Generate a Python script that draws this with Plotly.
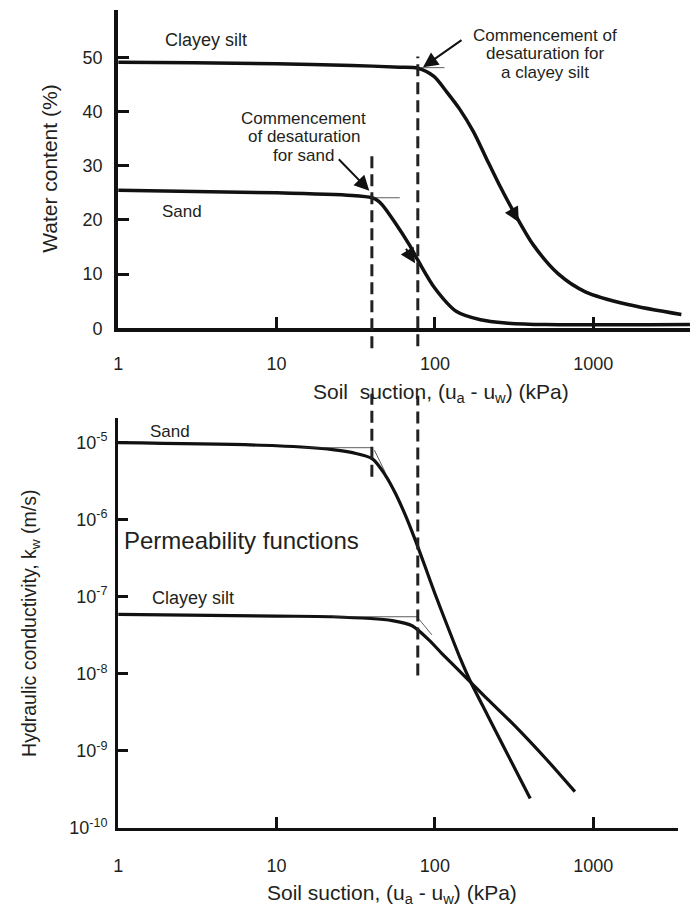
import plotly.graph_objects as go

W, H = 692, 916

# ---------------- data ----------------
# Top panel: water content (%) vs soil suction (kPa)
silt_wc_suction = [1, 3, 10, 30, 60, 78, 98.6, 119, 143, 175, 211, 255, 312, 416, 604, 891, 1655, 3600]
silt_wc = [49.1, 49.0, 48.8, 48.5, 48.2, 48.0, 46.5, 43.6, 40.5, 36.3, 31.4, 26.5, 21.7, 15.5, 10.0, 6.75, 4.4, 2.55]
sand_wc_suction = [1, 10, 30, 40, 43, 46.5, 56.1, 68.7, 79.4, 100, 137, 194, 280, 501, 4080]
sand_wc = [25.5, 25.0, 24.5, 24.1, 23.7, 22.8, 19.5, 15.5, 12.2, 7.4, 3.1, 1.6, 1.0, 0.7, 0.7]

# Bottom panel: hydraulic conductivity (m/s) vs soil suction (kPa)
sand_k_suction = [1, 10, 22.6, 30.2, 40.3, 48.6, 56.1, 64.9, 75, 86.5, 100, 120, 146, 166, 215, 287, 400]
sand_k = [1.0e-5, 9.12e-6, 8.13e-6, 7.41e-6, 6.17e-6, 3.8e-6, 2.24e-6, 1.16e-6, 5.5e-7, 2.5e-7,
          1.1e-7, 4.17e-8, 1.51e-8, 8.3e-9, 2.9e-9, 9.1e-10, 2.4e-10]
silt_k_suction = [1, 10, 22.4, 53.8, 71.8, 91.6, 110, 163, 215, 318, 511, 766]
silt_k = [5.9e-8, 5.6e-8, 5.5e-8, 4.9e-8, 4.2e-8, 2.75e-8, 1.86e-8, 8.3e-9, 4.68e-9, 2.14e-9, 7.6e-10, 2.95e-10]

# Air-entry (commencement of desaturation) suctions
aev_sand = 40
aev_silt = 78

# Thin construction (tangent) lines
tan_top_sand_x, tan_top_sand_y = [40, 60], [24.1, 24.1]
tan_top_silt_x, tan_top_silt_y = [78, 115], [48.1, 48.1]
tan_bot_sand_h_x, tan_bot_sand_h_y = [14.6, 40], [8.6e-6, 8.6e-6]
tan_bot_sand_d_x, tan_bot_sand_d_y = [41.5, 48.6], [8.0e-6, 4.1e-6]
tan_bot_silt_h_x, tan_bot_silt_h_y = [22.6, 77], [5.5e-8, 5.5e-8]
tan_bot_silt_d_x, tan_bot_silt_d_y = [77, 95.8], [5.5e-8, 3.2e-8]

x_tickvals = [1, 10, 100, 1000]
x_ticktext = ["1", "10", "100", "1000"]
wc_tickvals = [0, 10, 20, 30, 40, 50]
k_tickvals = [1e-10, 1e-9, 1e-8, 1e-7, 1e-6, 1e-5]
k_ticktext = ["10<sup>-10</sup>", "10<sup>-9</sup>", "10<sup>-8</sup>", "10<sup>-7</sup>",
              "10<sup>-6</sup>", "10<sup>-5</sup>"]

# ---------------- helpers ----------------
FONT = "Liberation Sans, Arial, sans-serif"
TXT = "#231f20"
LINE = "#111111"


def px_x(p):
    return p / W


def px_y(p):
    return 1 - p / H


fig = go.Figure()

# main curves
fig.add_trace(go.Scatter(x=silt_wc_suction, y=silt_wc, mode="lines", xaxis="x", yaxis="y",
                         line=dict(color=LINE, width=3.5, shape="spline", smoothing=0.8)))
fig.add_trace(go.Scatter(x=sand_wc_suction, y=sand_wc, mode="lines", xaxis="x", yaxis="y",
                         line=dict(color=LINE, width=3.5, shape="spline", smoothing=0.8)))
fig.add_trace(go.Scatter(x=sand_k_suction, y=sand_k, mode="lines", xaxis="x2", yaxis="y2",
                         line=dict(color=LINE, width=3.2, shape="spline", smoothing=0.8)))
fig.add_trace(go.Scatter(x=silt_k_suction, y=silt_k, mode="lines", xaxis="x2", yaxis="y2",
                         line=dict(color=LINE, width=3.2, shape="spline", smoothing=0.8)))

# thin tangent lines
for xs, ys, xa, ya in [
    (tan_top_sand_x, tan_top_sand_y, "x", "y"),
    (tan_top_silt_x, tan_top_silt_y, "x", "y"),
    (tan_bot_sand_h_x, tan_bot_sand_h_y, "x2", "y2"),
    (tan_bot_sand_d_x, tan_bot_sand_d_y, "x2", "y2"),
    (tan_bot_silt_h_x, tan_bot_silt_h_y, "x2", "y2"),
    (tan_bot_silt_d_x, tan_bot_silt_d_y, "x2", "y2"),
]:
    fig.add_trace(go.Scatter(x=xs, y=ys, mode="lines", xaxis=xa, yaxis=ya,
                             line=dict(color="#333333", width=0.8)))

# dashed vertical lines (air-entry values), split where axis text sits
shapes = []
dash = "12px,6px"
for xval, segs in [
    (aev_sand, [("x", 155, 352), ("x2", 398, 482)]),
    (aev_silt, [("x", 57, 350), ("x2", 400, 683)]),
]:
    for xref, p0, p1 in segs:
        shapes.append(dict(type="line", xref=xref, yref="paper", x0=xval, x1=xval,
                           y0=px_y(p1), y1=px_y(p0),
                           line=dict(color="#222222", width=3, dash=dash)))

annotations = []


def text(t, px, py, size=17, **kw):
    annotations.append(dict(text=t, x=px_x(px), y=px_y(py), xref="paper", yref="paper",
                            showarrow=False, xanchor="center", yanchor="middle",
                            font=dict(family=FONT, size=size, color=TXT), **kw))


# series labels
text("Clayey silt", 202, 40, 18)
text("Sand", 178, 214, 17)
text("Sand", 166, 436, 17)
text("Clayey silt", 189, 605, 18)
text("Permeability functions", 238, 546, 24)

# annotation texts (single lines for tight line spacing)
for t, py in [("Commencement", 120), ("of desaturation", 138), ("for sand", 157)]:
    text(t, 301, py, 17)
for t, py in [("Commencement of", 36), ("desaturation for", 54), ("a clayey silt", 73)]:
    text(t, 544, py, 17)

# axis titles
text("Soil\u00a0 suction, (u<sub>a</sub> - u<sub>w</sub>) (kPa)", 439, 397, 21)
text("Soil suction, (u<sub>a</sub> - u<sub>w</sub>) (kPa)", 390, 904, 21)
text("Water content (%)", 44, 171, 21, textangle=-90)
text("Hydraulic conductivity, k<sub>w</sub> (m/s)", 25, 630, 19.5, textangle=-90)


# arrows (axis coordinates: log10 for log x axes)
def arrow(x_kpa_log, y, ax, ay, xref="x", yref="y"):
    annotations.append(dict(text="", x=x_kpa_log, y=y, xref=xref, yref=yref,
                            ax=ax, ay=ay, axref="pixel", ayref="pixel",
                            showarrow=True, arrowhead=2, arrowsize=1.5, arrowwidth=2,
                            arrowcolor=LINE, standoff=0))


# pointers from annotation text
arrow(1.925, 48.2, 40, -28)
arrow(1.586, 25.4, -32, -33)
# direction arrows along curves
arrow(2.53, 19.6, -9, -16)
arrow(1.875, 12.0, -10, -16)

axis_common = dict(showgrid=False, zeroline=False, showline=True, linecolor=LINE,
                   ticks="inside", tickcolor=LINE,
                   tickfont=dict(family=FONT, size=18, color=TXT))

fig.update_layout(
    width=W, height=H,
    margin=dict(l=0, r=0, t=0, b=0),
    paper_bgcolor="white", plot_bgcolor="white",
    showlegend=False,
    hovermode=False,
    xaxis=dict(axis_common, type="log", domain=[114 / W, 690 / W], range=[0, 3.611],
               anchor="y", tickvals=x_tickvals, ticktext=x_ticktext,
               linewidth=4, ticklen=11, tickwidth=3, ticklabelstandoff=16),
    yaxis=dict(axis_common, domain=[px_y(332), px_y(10)], range=[0, 58.76],
               anchor="x", tickvals=wc_tickvals,
               linewidth=4, ticklen=11, tickwidth=3, ticklabelstandoff=8),
    xaxis2=dict(axis_common, type="log", domain=[114 / W, 678 / W], range=[0, 3.536],
                anchor="y2", tickvals=x_tickvals, ticktext=x_ticktext,
                linewidth=3, ticklen=11, tickwidth=3, ticklabelstandoff=20),
    yaxis2=dict(axis_common, type="log", domain=[px_y(837), px_y(423)], range=[-10, -4.685],
                anchor="x2", tickvals=k_tickvals, ticktext=k_ticktext,
                linewidth=3, ticklen=10, tickwidth=3, ticklabelstandoff=4),
    shapes=shapes,
    annotations=annotations,
)

fig.write_html("out.html", config={"displayModeBar": False})
